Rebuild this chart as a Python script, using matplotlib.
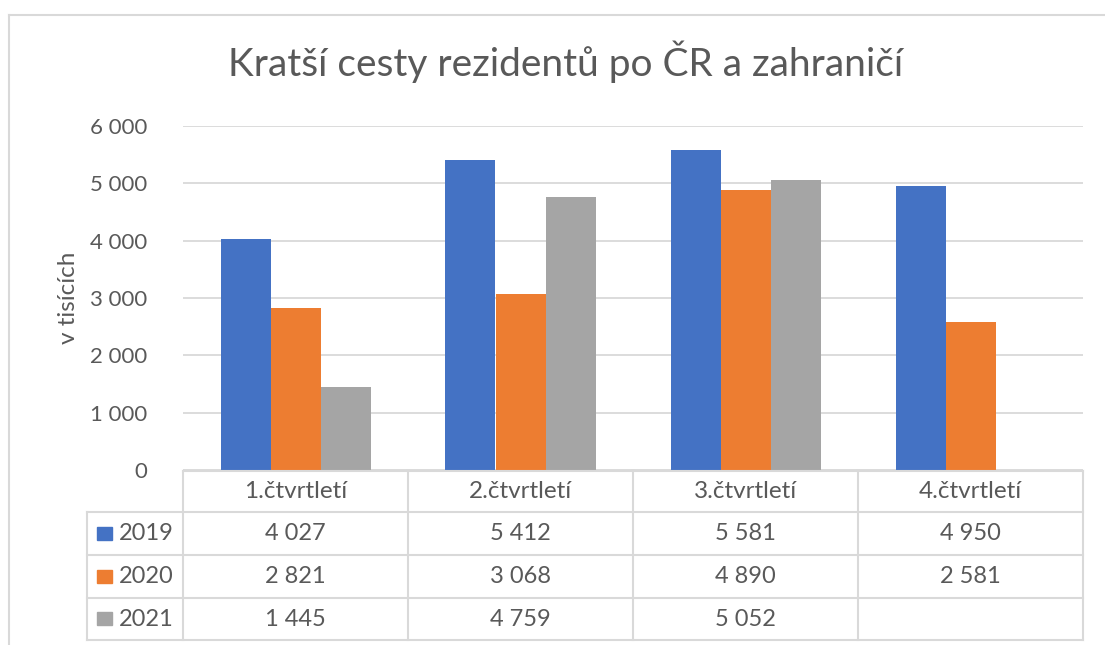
# Kratší cesty rezidentů - sloupcový graf s tabulkou dat
import numpy as np
import matplotlib.pyplot as plt
from matplotlib.lines import Line2D
from matplotlib.patches import Rectangle

plt.rcParams['font.family'] = ['Lato', 'DejaVu Sans']

# data
ctvrtleti = ['1.čtvrtletí', '2.čtvrtletí', '3.čtvrtletí', '4.čtvrtletí']
roky = ['2019', '2020', '2021']
h2019 = [4027, 5412, 5581, 4950]
h2020 = [2821, 3068, 4890, 2581]
h2021 = [1445, 4759, 5052, None]
barvy = ['#4472C4', '#ED7D31', '#A5A5A5']
yticks = [0, 1000, 2000, 3000, 4000, 5000, 6000]

sedy_text = '#595959'
mrizka = '#D9D9D9'

W, H = 1105, 645
fig = plt.figure(figsize=(W / 100, H / 100), dpi=100)

def px(x, y):
    # pixel souradnice (od leveho horniho rohu) -> figure
    return x / W, 1 - y / H

# ramecek grafu (oriznuty vpravo a dole)
fig.add_artist(Line2D([9 / W, 9 / W], [0, 1 - 15 / H], transform=fig.transFigure, color=mrizka, lw=1.5))
fig.add_artist(Line2D([9 / W, 1], [1 - 15 / H, 1 - 15 / H], transform=fig.transFigure, color=mrizka, lw=1.5))

# osa s grafem
x0, x1, ytop, ybot = 183, 1083, 126, 470
ax = fig.add_axes([x0 / W, 1 - ybot / H, (x1 - x0) / W, (ybot - ytop) / H])
ax.set_xlim(0, 4)
ax.set_ylim(0, 6000)
serie = [h2019, h2020, h2021]
sirka = 50 / 225
pozice = np.arange(4) + 0.5
for i, (vals, c) in enumerate(zip(serie, barvy)):
    v = [np.nan if x is None else x for x in vals]
    ax.bar(pozice + (i - 1) * sirka, v, width=sirka, color=c, zorder=3)
ax.set_yticks(yticks)
ax.set_yticklabels([f'{t:,}'.replace(',', ' ') for t in yticks])
ax.tick_params(axis='y', length=0, pad=26, labelsize=16, labelcolor=sedy_text)
ax.set_xticks([])
ax.grid(axis='y', color=mrizka, lw=1.3, zorder=0)
for s in ax.spines.values():
    s.set_visible(False)
ax.set_ylabel('v tisících', fontsize=17.5, color=sedy_text, va='center')
ax.yaxis.set_label_coords((68 - x0) / (x1 - x0), 0.5)

fig.text(*px(566, 62), 'Kratší cesty rezidentů po ČR a zahraničí', ha='center', va='center',
         fontsize=28, color=sedy_text)

# tabulka dat
sloupce = [183, 408, 633, 858, 1083]
radky = [471, 512, 555, 598, 640]
tl = 1.5
# svisle cary
for xc in sloupce:
    fig.add_artist(Line2D([xc / W] * 2, [1 - radky[0] / H, 1 - radky[-1] / H],
                          transform=fig.transFigure, color=mrizka, lw=tl))
fig.add_artist(Line2D([87 / W] * 2, [1 - radky[1] / H, 1 - radky[-1] / H],
                      transform=fig.transFigure, color=mrizka, lw=tl))
# vodorovne cary
for j, yr in enumerate(radky):
    xs = 183 if j == 0 else 87
    fig.add_artist(Line2D([xs / W, 1083 / W], [1 - yr / H] * 2,
                          transform=fig.transFigure, color=mrizka, lw=tl))

for k, nazev in enumerate(ctvrtleti):
    xc = (sloupce[k] + sloupce[k + 1]) / 2
    fig.text(*px(xc, (radky[0] + radky[1]) / 2), nazev, ha='center', va='center',
             fontsize=17.5, color=sedy_text)

for i, (rok, vals, c) in enumerate(zip(roky, serie, barvy)):
    yc = (radky[i + 1] + radky[i + 2]) / 2
    fig.add_artist(Rectangle(px(97, yc + 6), 15 / W, 13 / H, transform=fig.transFigure,
                             color=c))
    fig.text(*px(119, yc), rok, ha='left', va='center', fontsize=17, color=sedy_text)
    for k, v in enumerate(vals):
        if v is None:
            continue
        xc = (sloupce[k] + sloupce[k + 1]) / 2
        fig.text(*px(xc, yc), f'{v:,}'.replace(',', ' '), ha='center', va='center',
                 fontsize=17, color=sedy_text)

fig.savefig('out.png', dpi=100)
